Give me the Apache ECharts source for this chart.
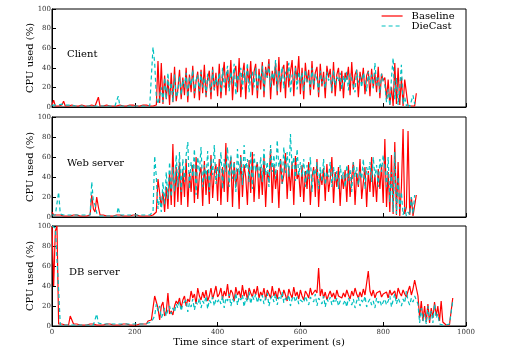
<!DOCTYPE html>
<html>
<head>
<meta charset="utf-8">
<script src="https://cdn.jsdelivr.net/npm/echarts@6/dist/echarts.min.js"></script>
<style>
html,body{margin:0;padding:0;background:#fff;}
#chart{width:519px;height:363px;}
</style>
</head>
<body>
<div id="chart"></div>
<script>
// Sample period (seconds) of the CPU measurements
const sampleStep = 4;

const panelTitles = ['Client', 'Web server', 'DB server'];
const seriesNames = ['Baseline', 'DieCast'];
const xTicks = [0, 200, 400, 600, 800, 1000];
const yTicks = [0, 20, 40, 60, 80, 100];

// ---- Client ----
const clientBaseline = [
  2,7,1,2,1,1,2,6,1,2, 1,1,2,1,1,2,1,1,2,1, 1,2,1,1,2,1,1,2,10,1, 2,1,1,2,1,1,2,1,2,1, 1,2,1,1,2,1,1,2,1,2, 1,1,2,1,1,2,1,2,1,1, 2,
  1,2,2,
  47,4,45,3,32,8,28,2,35,5,41,6,
  18,38,8,30,12,40,5,33,15,42,9,26,36,7,38,14,43,10,29,37,8,41,17,35,11,
  44,9,31,46,12,38,20,48,7,35,42,15,50,10,33,45,8,40,24,47,12,36,44,9,39,
  18,46,10,41,30,49,8,37,22,45,12,51,15,38,43,9,47,20,36,48,11,42,27,52,13,
  40,8,45,25,38,12,47,18,35,41,10,44,21,36,9,42,30,39,14,46,11,33,40,16,37,
  9,35,28,41,12,46,18,33,38,10,36,24,40,13,32,37,11,39,20,35,15,41,9,34,27,
  30,8,28,2,20,1,45,3,40,2,30,1,28,27,1,3,1,2,1,14
];
const clientDieCast = [
  2,1,2,1,2,1,3,1,2,1, 2,1,2,3,1,2,1,2,1,2, 1,2,1,2,1,2,1,2,1,2, 1,2,1,2,1,2,1,2,1,2, 11,1,2,1,2,1,2,1,2,1, 2,1,2,1,2,1,2,1,2,1, 2,
  61,45,10,3,2,20,5,30,8,35,12,25,5,33,10,
  15,32,12,28,20,35,10,30,22,38,14,27,33,16,36,20,30,12,34,25,15,38,18,30,22,
  35,14,40,20,30,42,16,36,24,44,12,33,28,40,18,38,25,45,15,32,36,20,40,17,34,
  26,42,15,38,30,44,20,35,28,48,16,37,25,41,19,36,30,45,14,33,27,40,18,36,24,
  35,16,38,26,32,18,40,22,34,28,15,37,24,30,19,36,27,33,16,38,22,31,26,35,18,
  32,24,36,17,34,28,30,15,38,25,31,20,35,27,16,36,24,33,19,45,22,30,14,34,26,
  22,5,18,1,30,50,8,30,2,20,43,3,10,1,4,0,2,12,3
];

// ---- Web server ----
const webBaseline = [
  5,2,1,2,1,2,1,1,2,1, 2,1,1,2,1,2,1,1,2,1, 2,1,1,2,22,8,5,20,10,2, 1,2,1,1,2,1,2,1,1,2, 1,2,1,1,2,1,2,1,1,2, 1,2,1,1,2,1,2,1,2,1, 2,
  2,3,5,38,40,10,25,5,30,8,45,12,73,10,50,
  15,55,12,48,20,58,10,45,25,52,14,60,18,42,50,11,56,22,47,13,62,19,44,53,16,
  58,12,50,25,74,15,45,60,10,55,30,48,8,62,20,52,40,12,57,24,65,15,46,55,18,
  50,22,60,10,45,35,68,14,52,28,47,9,58,33,42,64,18,50,26,55,12,61,38,44,20,
  52,15,46,28,55,12,40,50,20,58,10,44,32,49,16,53,25,38,60,14,45,30,50,11,42,
  28,47,15,52,20,40,55,12,44,30,58,18,35,50,10,46,25,60,20,42,15,48,28,52,14,
  78,10,45,5,62,3,75,2,55,1,30,88,3,10,86,2,20,1,2,22
];
const webDieCast = [
  2,1,2,1,25,3,1,2,1,2, 1,2,1,2,1,2,1,2,1,2, 1,2,1,2,35,15,12,4,2,1, 2,1,2,1,2,1,2,1,2,1, 10,2,1,2,1,2,1,2,1,2, 1,2,1,2,1,2,1,2,1,2, 1,
  5,61,40,8,20,5,35,12,45,18,55,20,50,25,62,
  30,65,25,58,35,62,75,28,55,40,68,22,60,45,70,30,52,38,66,25,58,42,72,33,50,
  40,65,28,58,45,70,30,62,38,55,25,68,42,60,32,72,48,58,35,66,28,63,45,55,38,
  60,35,68,42,55,30,72,45,62,38,77,50,58,33,70,44,65,40,83,48,60,36,68,42,55,
  40,58,30,52,38,60,25,48,42,55,28,50,35,58,32,45,40,55,30,50,36,46,28,52,38,
  45,30,52,36,48,25,55,40,50,32,46,38,58,28,50,42,55,35,60,40,52,30,58,45,62,
  50,30,60,15,45,5,65,3,40,8,25,2,10,1,5,2,20,3,22
];

// ---- DB server ----
const dbBaseline = [
  100,40,95,100,2,
  1,2,1,1,2,1,10,6,2,1, 2,1,1,2,1,2,1,1,2,1, 2,1,1,2,1,2,1,1,2,1, 2,1,1,2,1,2,1,1,2,1, 2,1,1,2,1,2,1,1,2,3, 2,4,2,5,3,6,
  5,30,28,18,6,20,24,10,14,33,12,15,11,20,25,
  22,28,18,26,30,20,27,24,35,28,32,22,38,30,26,34,28,36,25,30,38,27,33,40,29,
  32,38,27,35,30,42,28,36,33,25,39,31,35,28,41,30,36,26,38,33,29,37,31,40,28,
  34,30,38,26,36,32,28,40,30,35,27,38,33,29,36,31,25,37,32,28,39,30,34,27,36,
  30,26,35,32,28,38,31,29,36,33,58,30,37,28,34,26,31,35,29,33,27,36,30,32,28,
  33,29,36,31,27,35,30,38,32,28,34,29,37,31,33,55,35,30,36,28,33,31,35,29,32,
  30,34,28,36,31,29,35,27,38,33,30,36,32,29,35,40,31,37,46,44,30,8,25,5,20,
  4,22,3,18,8,24,10,20,5,25,4,2,1,2,1,2,28
];
const dbDieCast = [
  100,100,98,100,36,
  1,2,1,2,1,2,1,2,1,2, 1,2,1,2,1,2,1,2,1,2, 1,2,12,3,1,2,1,2,1,2, 1,2,1,2,1,2,1,2,1,2, 1,2,1,2,1,2,1,2,1,2, 1,2,1,3,2,4,
  3,10,22,15,20,8,12,18,10,16,20,12,18,14,22,
  18,24,15,22,20,26,14,23,19,27,16,24,21,28,18,25,22,30,17,26,23,29,20,27,24,
  27,22,30,18,28,25,32,20,27,24,33,21,29,26,31,19,28,24,34,22,30,26,32,23,29,
  25,31,22,28,33,20,27,30,24,32,21,29,26,34,23,28,25,31,20,27,30,24,29,22,26,
  28,23,30,25,21,29,27,24,32,20,28,25,22,30,19,27,24,29,21,26,23,28,20,25,27,
  22,26,19,28,24,21,27,18,25,29,20,26,23,30,19,24,27,21,25,18,28,23,26,20,24,
  27,21,25,30,19,26,32,22,28,24,20,27,23,35,25,21,28,24,30,26,22,3,18,5,12,
  2,20,6,15,3,22,8,12,2,4,1,2,1,1,2,1,25
];

const panelData = [
  [clientBaseline, clientDieCast],
  [webBaseline, webDieCast],
  [dbBaseline, dbDieCast]
];

// ---- styling / layout ----
const FONT = '"DejaVu Serif", serif';
const RED = '#ff0000';
const CYAN = '#00c0c0';
const LW = 1.2;
const gridBoxes = [
  {top: 9, height: 98},
  {top: 117, height: 100},
  {top: 226, height: 100}
];
const titlePos = [[67, 49], [67, 158], [69, 267]];

function toPairs(arr) { return arr.map((v, i) => [i * sampleStep, v]); }

const grids = [], xAxes = [], yAxes = [], series = [], graphics = [];
gridBoxes.forEach((g, p) => {
  grids.push({left: 52, width: 414, top: g.top, height: g.height,
    show: true, borderColor: '#000', borderWidth: 1, backgroundColor: 'transparent'});
  const isLast = p === gridBoxes.length - 1;
  xAxes.push({
    type: 'value', gridIndex: p, min: xTicks[0], max: xTicks[xTicks.length - 1],
    interval: xTicks[1] - xTicks[0],
    axisLine: {show: true, lineStyle: {color: '#000', width: 1}},
    axisTick: {show: true, inside: true, length: 4, lineStyle: {color: '#000'}},
    axisLabel: {show: isLast, fontFamily: FONT, fontSize: 7, color: '#333', margin: 3,
      formatter: v => String(v)},
    splitLine: {show: false},
    name: isLast ? 'Time since start of experiment (s)' : '',
    nameLocation: 'middle', nameGap: 11, nameMoveOverlap: false,
    nameTextStyle: {fontFamily: FONT, fontSize: 10, color: '#000'}
  });
  yAxes.push({
    type: 'value', gridIndex: p, min: yTicks[0], max: yTicks[yTicks.length - 1],
    interval: yTicks[1] - yTicks[0],
    axisLine: {show: true, lineStyle: {color: '#000', width: 1}},
    axisTick: {show: true, inside: true, length: 4, lineStyle: {color: '#000'}},
    axisLabel: {fontFamily: FONT, fontSize: 7, color: '#333', margin: 1,
      formatter: v => String(v)},
    splitLine: {show: false},
    name: 'CPU used (%)', nameLocation: 'middle', nameGap: 17, nameRotate: 90,
    nameMoveOverlap: false,
    nameTextStyle: {fontFamily: FONT, fontSize: 10, color: '#000'}
  });
  const [base, dc] = panelData[p];
  series.push({
    name: seriesNames[0], type: 'line', xAxisIndex: p, yAxisIndex: p,
    data: toPairs(base), symbol: 'none', showSymbol: false, animation: false,
    lineStyle: {color: RED, width: LW}, itemStyle: {color: RED}, silent: true
  });
  series.push({
    name: seriesNames[1], type: 'line', xAxisIndex: p, yAxisIndex: p,
    data: toPairs(dc), symbol: 'none', showSymbol: false, animation: false,
    lineStyle: {color: CYAN, width: LW, type: [4, 3]}, itemStyle: {color: CYAN}, silent: true
  });
  graphics.push({
    type: 'text', left: titlePos[p][0], top: titlePos[p][1],
    style: {text: panelTitles[p], font: '10px ' + FONT, fill: '#000'}
  });
});

const chart = echarts.init(document.getElementById('chart'), null, {renderer: 'canvas'});
chart.setOption({
  animation: false,
  backgroundColor: '#fff',
  grid: grids,
  xAxis: xAxes,
  yAxis: yAxes,
  series: series,
  graphic: graphics,
  legend: {
    data: seriesNames, orient: 'vertical', left: 381, top: 11, padding: 0,
    itemWidth: 21, itemHeight: 10, itemGap: 0, selectedMode: false,
    itemStyle: {opacity: 0},
    lineStyle: {width: 1.2},
    textStyle: {fontFamily: FONT, fontSize: 10, color: '#000', padding: [0, 0, 0, 4]}
  }
});
</script>
</body>
</html>
